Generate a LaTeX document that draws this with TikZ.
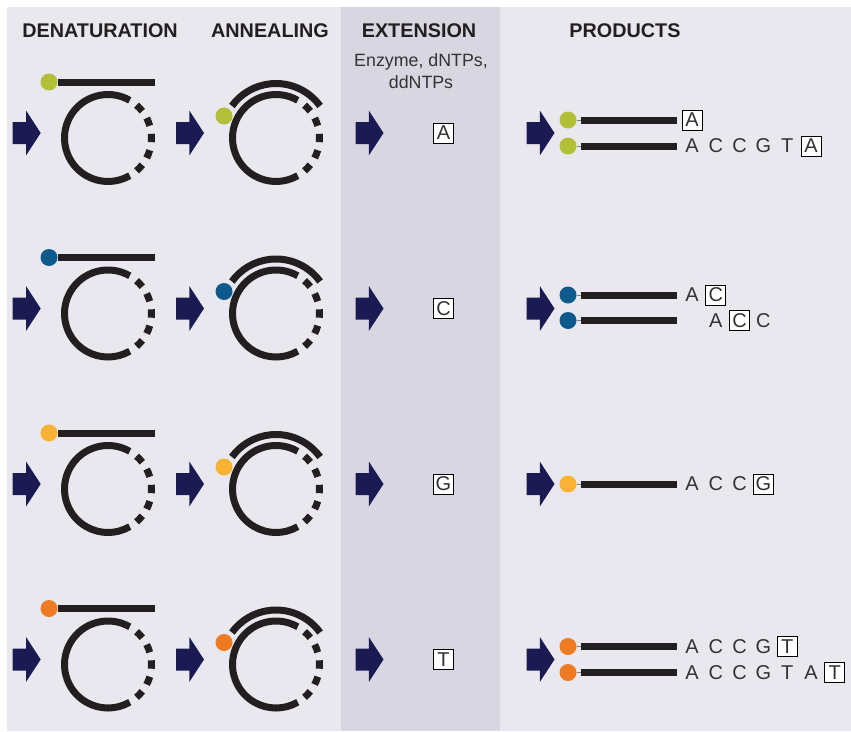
\documentclass[tikz,border=0pt]{standalone}
\usepackage{fontspec}
\setmainfont{Liberation Sans}
\usepackage{color}

\definecolor{panelgrey}{HTML}{E9E8EE}
\definecolor{extgrey}{HTML}{D8D7E1}
\definecolor{strandblack}{HTML}{231F20}
\definecolor{arrownavy}{HTML}{1B1A52}
\definecolor{lettergrey}{HTML}{333333}
\definecolor{primerolive}{HTML}{B3BF37}
\definecolor{primerblue}{HTML}{0F5A8C}
\definecolor{primeryellow}{HTML}{F9B233}
\definecolor{primerorange}{HTML}{EE7B22}

\begin{document}
\begin{tikzpicture}[x=1pt,y=-1pt,
  strand/.style={draw=strandblack,line width=7pt},
  tether/.style={draw=gray,line width=0.8pt},
  primer/.style={circle,inner sep=0pt,minimum size=17pt},
  head/.style={font=\fontsize{19.8}{22}\selectfont\bfseries,text=strandblack},
  reagent/.style={font=\fontsize{17.8}{22}\selectfont,text=lettergrey,align=center},
  base/.style={font=\fontsize{20}{20}\selectfont,text=lettergrey,inner sep=0pt,minimum size=20pt},
  ddbox/.style={base,draw=black,line width=0.8pt,fill=white}]
  \useasboundingbox (0,0) rectangle (851,731);
  \fill[panelgrey] (7,7) rectangle (851,731);
  \fill[extgrey] (341,7) rectangle (500,731);

  % column heads
  \node[head] (hden) at (100,31) {DENATURATION};
  \node[head] (hann) at (270,31) {ANNEALING};
  \node[head] (hext) at (419,31) {EXTENSION};
  \node[head] (hpro) at (625,31) {PRODUCTS};
  \node[reagent] (reag) at (421,71) {Enzyme, dNTPs,\\ddNTPs};

  % block arrows
  \foreach \y in {133,308.5,484,659.5}
    \foreach \x in {12.7,176,355.5,526.5}
      \fill[arrownavy] (\x,\y-11) -- ++(13.3,0) -- ++(0,-11.5) -- ++(14.7,22.5)
        -- ++(-14.7,22.5) -- ++(0,-11.5) -- ++(-13.3,0) -- cycle;

  % template circles and primers
  \foreach \r/\y/\c/\t in {1/133/primerolive/A,2/308.5/primerblue/C,3/484/primeryellow/G,4/659.5/primerorange/T}{
    \coordinate (den\r) at (108,\y+5);
    \coordinate (ann\r) at (276,\y+5);
    \foreach \o in {den\r,ann\r}{
      \draw[strand] ([shift={(60:43.5pt)}]\o) arc[start angle=60,end angle=300,radius=43.5pt];
      \foreach \a in {43.5,21.8,0,-21.8,-43.5}
        \draw[strand] ([shift={(\a+5.5:43.5pt)}]\o) arc[start angle=\a+5.5,delta angle=-11,radius=43.5pt];
    }
    \node[primer,fill=\c] (dp\r) at (49,\y-51) {};
    \coordinate (ds\r) at (58,\y-51);
    \coordinate (de\r) at (155,\y-51);
    \draw[tether] (dp\r) -- (ds\r);
    \draw[strand] (ds\r) -- (de\r);
    \draw[strand] ([shift={(36:54.5pt)}]ann\r) arc[start angle=36,end angle=144,radius=54.5pt];
    \node[primer,fill=\c] (ap\r) at (224,\y-17) {};
    \node[ddbox] (ext\r) at (443.5,\y) {\t};
  }

  % product strands
  \foreach \n/\y/\c in {1a/120/primerolive,1b/146/primerolive,2a/295/primerblue,2b/320.5/primerblue,
                        3a/484/primeryellow,4a/646.5/primerorange,4b/672.5/primerorange}{
    \node[primer,fill=\c] (pp\n) at (568,\y) {};
    \coordinate (ps\n) at (581,\y);
    \coordinate (pe\n) at (677,\y);
    \draw[tether] (pp\n) -- (ps\n);
    \draw[strand] (ps\n) -- (pe\n);
  }
  \foreach \k/\t/\s in {0/A/ddbox}
    \node[\s] (l1a\k) at (692+23.8*\k,120) {\t};
  \foreach \k/\t/\s in {0/A/base,1/C/base,2/C/base,3/G/base,4/T/base,5/A/ddbox}
    \node[\s] (l1b\k) at (692+23.8*\k,146) {\t};
  \foreach \k/\t/\s in {0/A/base,1/C/ddbox}
    \node[\s] (l2a\k) at (692+23.8*\k,295) {\t};
  \foreach \k/\t/\s in {1/A/base,2/C/ddbox,3/C/base}
    \node[\s] (l2b\k) at (692+23.8*\k,320.5) {\t};
  \foreach \k/\t/\s in {0/A/base,1/C/base,2/C/base,3/G/ddbox}
    \node[\s] (l3a\k) at (692+23.8*\k,484) {\t};
  \foreach \k/\t/\s in {0/A/base,1/C/base,2/C/base,3/G/base,4/T/ddbox}
    \node[\s] (l4a\k) at (692+23.8*\k,646.5) {\t};
  \foreach \k/\t/\s in {0/A/base,1/C/base,2/C/base,3/G/base,4/T/base,5/A/base,6/T/ddbox}
    \node[\s] (l4b\k) at (692+23.8*\k,672.5) {\t};
\end{tikzpicture}
\end{document}
